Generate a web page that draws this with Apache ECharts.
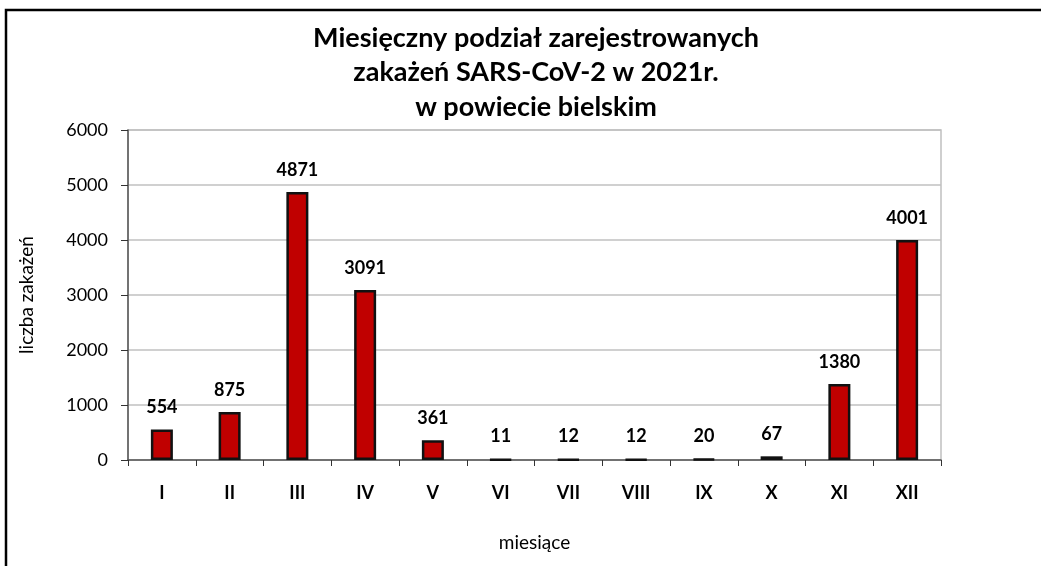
<!DOCTYPE html>
<html>
<head>
<meta charset="utf-8">
<script src="https://cdn.jsdelivr.net/npm/echarts@6/dist/echarts.min.js"></script>
<style>
	html, body { margin: 0; padding: 0; background: #fff; }
	#chart { width: 1041px; height: 566px; }
</style>
</head>
<body>
<div id="chart"></div>
<script>
	// dane z wykresu
	var months = ['I', 'II', 'III', 'IV', 'V', 'VI', 'VII', 'VIII', 'IX', 'X', 'XI', 'XII'];
	var cases = [554, 875, 4871, 3091, 361, 11, 12, 12, 20, 67, 1380, 4001];
	var yTicks = [0, 1000, 2000, 3000, 4000, 5000, 6000];

	var font = 'Lato, "Open Sans", sans-serif';
	var myChart = echarts.init(document.getElementById('chart'));

	var option = {
		backgroundColor: '#fff',
		animation: false,
		title: {
			text: 'Miesięczny podział zarejestrowanych\nzakażeń SARS-CoV-2 w 2021r.\nw powiecie bielskim',
			left: 531,
			top: 16,
			textAlign: 'center',
			textStyle: {
				fontFamily: font,
				fontSize: 27,
				fontWeight: 'bold',
				color: '#000',
				lineHeight: 34.5
			}
		},
		graphic: [{
			type: 'rect',
			shape: { x: 6, y: 10, width: 1200, height: 700 },
			style: { fill: 'none', stroke: '#000', lineWidth: 2.5 }
		}],
		grid: {
			left: 128,
			right: 100,
			top: 130,
			bottom: 106,
			show: true,
			borderColor: '#c0c0c0',
			borderWidth: 1.5
		},
		xAxis: {
			type: 'category',
			data: months,
			name: 'miesiące',
			nameLocation: 'middle',
			nameGap: 73,
			nameTextStyle: { fontFamily: font, fontSize: 19, color: '#000' },
			axisLine: { lineStyle: { color: '#555', width: 1.5 } },
			axisTick: { show: true, length: 6, inside: false, lineStyle: { color: '#333' } },
			axisLabel: {
				margin: 24,
				fontFamily: font,
				fontSize: 18,
				fontWeight: 'bold',
				color: '#000'
			}
		},
		yAxis: {
			type: 'value',
			min: yTicks[0],
			max: yTicks[yTicks.length - 1],
			interval: 1000,
			name: 'liczba zakażeń',
			nameLocation: 'middle',
			nameGap: 92,
			nameTextStyle: { fontFamily: font, fontSize: 19, color: '#000' },
			axisLine: { show: true, lineStyle: { color: '#555', width: 1.5 } },
			axisTick: { show: true, length: 7, lineStyle: { color: '#333' } },
			splitLine: { lineStyle: { color: '#c0c0c0', width: 1.5 } },
			axisLabel: {
				margin: 20,
				fontFamily: font,
				fontSize: 18,
				color: '#000',
				formatter: function(v) { return String(v); }
			}
		},
		series: [{
			type: 'bar',
			data: cases,
			barWidth: 22,
			itemStyle: {
				color: '#c00000',
				borderColor: '#111',
				borderWidth: 2.5
			},
			label: {
				show: true,
				position: 'top',
				distance: 13,
				fontFamily: font,
				fontSize: 18,
				fontWeight: 'bold',
				color: '#000'
			}
		}]
	};
	myChart.setOption(option);
</script>
</body>
</html>
